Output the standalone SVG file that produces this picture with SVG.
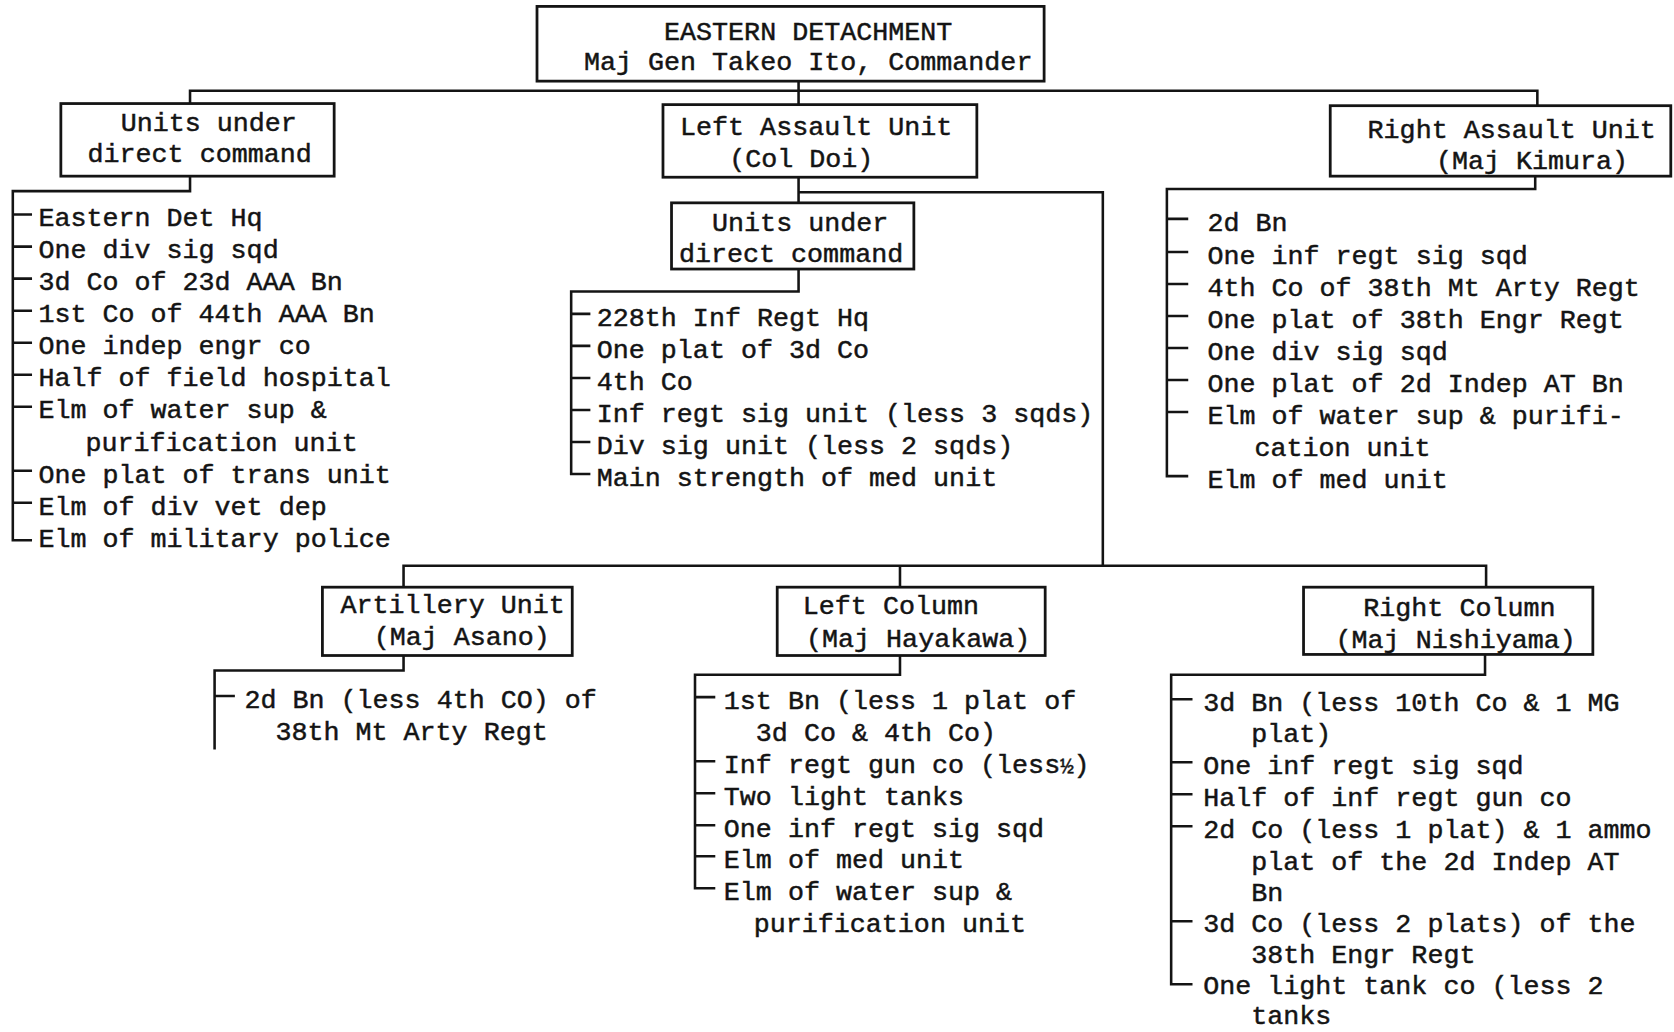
<svg xmlns="http://www.w3.org/2000/svg" width="1674" height="1032" viewBox="0 0 1674 1032">
<style>
.bg{fill:#ffffff}
.box{fill:#ffffff;stroke:#141414;stroke-width:2.6}
.ln{fill:none;stroke:#141414;stroke-width:2.4;stroke-linejoin:miter}
text{font-family:"Liberation Mono","Courier New",monospace;font-size:25px;fill:#141414;stroke:#141414;stroke-width:0.45}
.fr{font-size:21px}
</style>
<rect class="bg" x="0" y="0" width="1674" height="1032"/>
<g transform="scale(1.0676)">
<g id="connectors">
<path class="ln" d="M748,76 V98 M178,97 V85 H1440 V99"/>
<path class="ln" d="M178,165 V179 H12 V506 H30 M12,201 H30 M12,231 H30 M12,261 H30 M12,291 H30 M12,321 H30 M12,351 H30 M12,381 H30 M12,441 H30 M12,471 H30"/>
<path class="ln" d="M748,166 V190 M748,180 H1033 V530 M378,550 V530 H1392 V550 M843,530 V550"/>
<path class="ln" d="M748,252 V273 H535 V444 H553 M535,294 H553 M535,324 H553 M535,354 H553 M535,384 H553 M535,414 H553"/>
<path class="ln" d="M1438,165 V177 H1093 V446 H1113 M1093,205 H1113 M1093,236 H1113 M1093,266 H1113 M1093,296 H1113 M1093,326 H1113 M1093,356 H1113 M1093,386 H1113"/>
<path class="ln" d="M378,614 V628 H201 V702 M201,652 H220"/>
<path class="ln" d="M843,614 V632 H651 V832 H670 M651,653 H670 M651,713 H670 M651,743 H670 M651,773 H670 M651,802 H670"/>
<path class="ln" d="M1391,613 V632 H1097 V922 H1117 M1097,655 H1117 M1097,714 H1117 M1097,744 H1117 M1097,774 H1117 M1097,863 H1117"/>
</g>
<g id="eastern-detachment">
<rect class="box" x="503" y="6" width="475" height="70"/>
<text x="622" y="37">EASTERN DETACHMENT</text>
<text x="547" y="66">Maj Gen Takeo Ito, Commander</text>
</g>
<g id="units-direct-command">
<rect class="box" x="57" y="97" width="256" height="68"/>
<text x="113" y="123">Units under</text>
<text x="82" y="152">direct command</text>
<text x="36" y="212">Eastern Det Hq</text>
<text x="36" y="242">One div sig sqd</text>
<text x="36" y="272">3d Co of 23d AAA Bn</text>
<text x="36" y="302">1st Co of 44th AAA Bn</text>
<text x="36" y="332">One indep engr co</text>
<text x="36" y="362">Half of field hospital</text>
<text x="36" y="392">Elm of water sup &amp;</text>
<text x="80" y="422">purification unit</text>
<text x="36" y="452">One plat of trans unit</text>
<text x="36" y="482">Elm of div vet dep</text>
<text x="36" y="512">Elm of military police</text>
</g>
<g id="left-assault-unit">
<rect class="box" x="621" y="98" width="294" height="68"/>
<text x="637" y="126">Left Assault Unit</text>
<text x="683" y="156">(Col Doi)</text>
</g>
<g id="left-assault-direct-command">
<rect class="box" x="629" y="190" width="227" height="62"/>
<text x="667" y="216">Units under</text>
<text x="636" y="245">direct command</text>
<text x="559" y="305">228th Inf Regt Hq</text>
<text x="559" y="335">One plat of 3d Co</text>
<text x="559" y="365">4th Co</text>
<text x="559" y="395">Inf regt sig unit (less 3 sqds)</text>
<text x="559" y="425">Div sig unit (less 2 sqds)</text>
<text x="559" y="455">Main strength of med unit</text>
</g>
<g id="right-assault-unit">
<rect class="box" x="1246" y="99" width="319" height="66"/>
<text x="1281" y="129">Right Assault Unit</text>
<text x="1345" y="158">(Maj Kimura)</text>
<text x="1131" y="216">2d Bn</text>
<text x="1131" y="247">One inf regt sig sqd</text>
<text x="1131" y="277">4th Co of 38th Mt Arty Regt</text>
<text x="1131" y="307">One plat of 38th Engr Regt</text>
<text x="1131" y="337">One div sig sqd</text>
<text x="1131" y="367">One plat of 2d Indep AT Bn</text>
<text x="1131" y="397">Elm of water sup &amp; purifi-</text>
<text x="1175" y="427">cation unit</text>
<text x="1131" y="457">Elm of med unit</text>
</g>
<g id="artillery-unit">
<rect class="box" x="302" y="550" width="234" height="64"/>
<text x="319" y="574">Artillery Unit</text>
<text x="350" y="604">(Maj Asano)</text>
<text x="229" y="663">2d Bn (less 4th CO) of</text>
<text x="258" y="693">38th Mt Arty Regt</text>
</g>
<g id="left-column">
<rect class="box" x="728" y="550" width="251" height="64"/>
<text x="752" y="575">Left Column</text>
<text x="755" y="606">(Maj Hayakawa)</text>
<text x="678" y="664">1st Bn (less 1 plat of</text>
<text x="708" y="694">3d Co &amp; 4th Co)</text>
<text x="678" y="724">Inf regt gun co (less<tspan class="fr">½</tspan>)</text>
<text x="678" y="754">Two light tanks</text>
<text x="678" y="784">One inf regt sig sqd</text>
<text x="678" y="813">Elm of med unit</text>
<text x="678" y="843">Elm of water sup &amp;</text>
<text x="706" y="873">purification unit</text>
</g>
<g id="right-column">
<rect class="box" x="1221" y="550" width="271" height="63"/>
<text x="1277" y="577">Right Column</text>
<text x="1251" y="607">(Maj Nishiyama)</text>
<text x="1127" y="666">3d Bn (less 10th Co &amp; 1 MG</text>
<text x="1172" y="695">plat)</text>
<text x="1127" y="725">One inf regt sig sqd</text>
<text x="1127" y="755">Half of inf regt gun co</text>
<text x="1127" y="785">2d Co (less 1 plat) &amp; 1 ammo</text>
<text x="1172" y="815">plat of the 2d Indep AT</text>
<text x="1172" y="844">Bn</text>
<text x="1127" y="873">3d Co (less 2 plats) of the</text>
<text x="1172" y="902">38th Engr Regt</text>
<text x="1127" y="931">One light tank co (less 2</text>
<text x="1172" y="959">tanks</text>
</g>
</g>
</svg>
